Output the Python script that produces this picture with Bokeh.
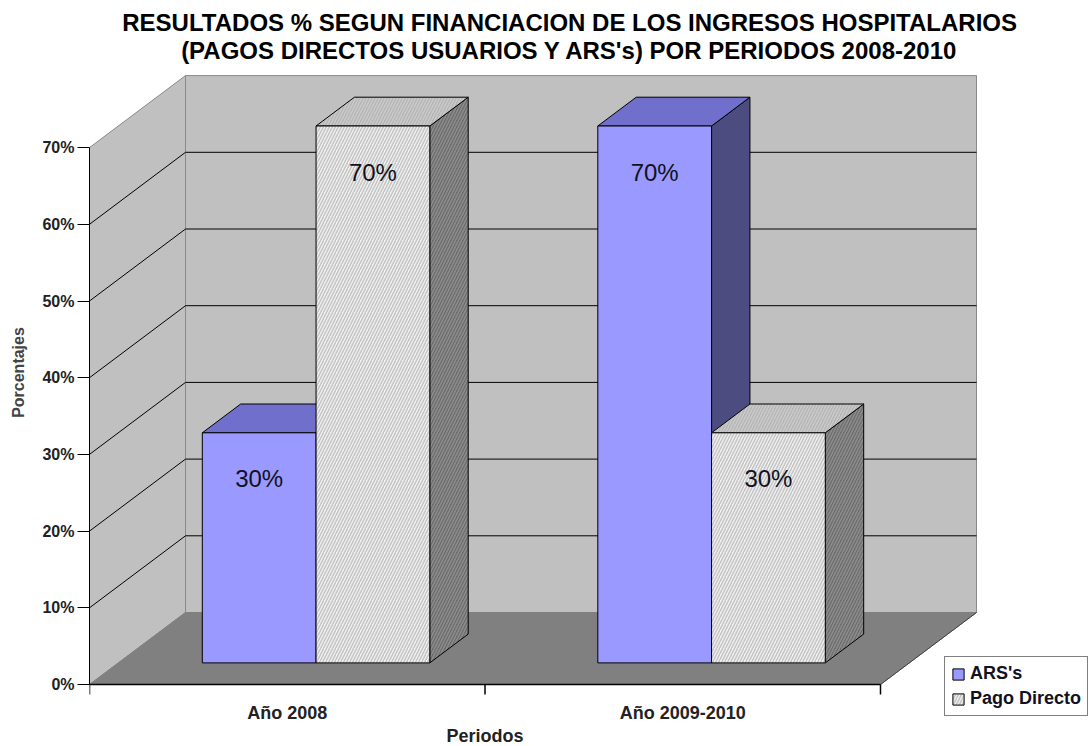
from bokeh.plotting import figure
from bokeh.models import Range1d, FixedTicker, Label, Legend, LegendItem, NumeralTickFormatter
from bokeh.core.properties import value
from bokeh.embed import file_html
from bokeh.resources import INLINE

# ---------------- data ----------------
categories = ["Año 2008", "Año 2009-2010"]
series_names = ["ARS's", "Pago Directo"]
ars_values = [0.30, 0.70]
pago_values = [0.70, 0.30]
y_ticks = [0.0, 0.1, 0.2, 0.3, 0.4, 0.5, 0.6, 0.7]
title_lines = [
    "RESULTADOS % SEGUN FINANCIACION DE LOS INGRESOS HOSPITALARIOS",
    "(PAGOS DIRECTOS USUARIOS Y ARS's) POR PERIODOS 2008-2010",
]
x_title = "Periodos"
y_title = "Porcentajes"

# ---------------- layout / style ----------------
FONT = "Liberation Sans"
W, H = 1090, 744
LEFT = 89
PX_X = 395.5          # pixels per category
PX_Y = 767.0          # pixels per 100 %
ZERO_PX = 684         # pixel row (inside figure) of the 0 % level
x_end = (W - LEFT) / PX_X
y_start = -(H - ZERO_PX) / PX_Y
y_end = ZERO_PX / PX_Y

DX, DY = 96 / PX_X, 72 / PX_Y     # full depth of the 3-D box (data units)
F0, DEP = 0.30, 0.40              # bar front depth and bar depth (fractions)
GAP, BW = 0.2124, 0.2876          # margin inside category, bar width
TICK = 10 / PX_Y
y_max = y_ticks[-1]
n_cat = len(categories)

p = figure(width=W, height=H, x_range=Range1d(0, x_end), y_range=Range1d(y_start, y_end),
           output_backend="svg", toolbar_location=None,
           min_border_left=LEFT, min_border_bottom=0, min_border_top=0, min_border_right=0)
p.outline_line_color = None
p.xgrid.visible = False
p.ygrid.visible = False
p.xaxis.visible = False
p.background_fill_color = "white"

# walls and floor
p.patch([0, DX, DX, 0], [0, DY, y_max + DY, y_max], fill_color="#c0c0c0", line_color="#8a8a8a")
p.patch([DX, n_cat + DX, n_cat + DX, DX], [DY, DY, y_max + DY, y_max + DY],
        fill_color="#c0c0c0", line_color="#8a8a8a")
p.patch([0, n_cat, n_cat + DX, DX], [0, 0, DY, DY], fill_color="#808080", line_color="#808080")
p.segment([n_cat], [0], [n_cat + DX], [DY], line_color="#404040", line_width=1)

# gridlines (left wall diagonals + back wall horizontals)
g = [v for v in y_ticks if 0 < v < y_max]
p.segment([0] * len(g), g, [DX] * len(g), [v + DY for v in g], line_color="black", line_width=1)
p.segment([DX] * len(g), [v + DY for v in g], [n_cat + DX] * len(g), [v + DY for v in g],
          line_color="black", line_width=1)


def faces(s, values):
    fr_x, fr_y, tp_x, tp_y, sd_x, sd_y = [], [], [], [], [], []
    cx, cy = [], []
    for i, v in enumerate(values):
        x0 = i + GAP + s * BW + F0 * DX
        x1 = x0 + BW
        yb = F0 * DY
        yt = v + F0 * DY
        ddx, ddy = DEP * DX, DEP * DY
        fr_x.append([x0, x1, x1, x0]); fr_y.append([yb, yb, yt, yt])
        tp_x.append([x0, x1, x1 + ddx, x0 + ddx]); tp_y.append([yt, yt, yt + ddy, yt + ddy])
        sd_x.append([x1, x1 + ddx, x1 + ddx, x1]); sd_y.append([yb, yb + ddy, yt + ddy, yt])
        cx.append((x0 + x1) / 2); cy.append(yt)
    return fr_x, fr_y, tp_x, tp_y, sd_x, sd_y, cx, cy


# ARS's bars
fx, fy, tx, ty, sx, sy, acx, acy = faces(0, ars_values)
p.patches(sx, sy, fill_color="#4c4c80", line_color="black", line_width=1)
p.patches(tx, ty, fill_color="#7070cc", line_color="black", line_width=1)
r_ars = p.patches(fx, fy, fill_color="#9999ff", line_color="black", line_width=1)

# Pago Directo bars
fx, fy, tx, ty, sx, sy, pcx, pcy = faces(1, pago_values)
p.patches(sx, sy, fill_color="#6c6c6c", line_color="black", line_width=1,
          hatch_pattern="/", hatch_color="#8c8c8c", hatch_scale=6, hatch_weight=1.5)
p.patches(tx, ty, fill_color="#b4b4b4", line_color="black", line_width=1,
          hatch_pattern="/", hatch_color="#cacaca", hatch_scale=6, hatch_weight=1.5)
r_pago = p.patches(fx, fy, fill_color="#f2f2f2", line_color="black", line_width=1,
                   hatch_pattern="/", hatch_color="#c4c4c4", hatch_scale=6, hatch_weight=1.5)

# value labels
lab_x = acx + pcx
lab_y = acy + pcy
lab_t = [f"{v * 100:.0f}%" for v in ars_values + pago_values]
p.text(lab_x, lab_y, text=lab_t, text_align="center", text_baseline="middle", y_offset=46,
       text_font=value(FONT), text_font_size="24px", text_color="#111122")

# titles
for k, line in enumerate(title_lines):
    p.add_layout(Label(x=n_cat * 0.607, y=(ZERO_PX - 22 - k * 28) / PX_Y, text=line,
                       text_align="center", text_baseline="middle", text_font=FONT,
                       text_font_size="24px", text_font_style="bold", text_color="black"))

# y axis (real axis)
ya = p.yaxis[0]
ya.ticker = FixedTicker(ticks=y_ticks)
ya.formatter = NumeralTickFormatter(format="0%")
ya.bounds = (0, y_max)
ya.major_tick_out = 12
ya.major_tick_in = 0
ya.major_label_standoff = 3
ya.major_label_text_font = FONT
ya.major_label_text_font_size = "16px"
ya.major_label_text_font_style = "bold"
ya.major_label_text_color = "#222222"
ya.axis_label = y_title
ya.axis_label_text_font = FONT
ya.axis_label_text_font_size = "16px"
ya.axis_label_text_font_style = "bold"
ya.axis_label_standoff = 12
ya.axis_line_color = "black"

# category axis drawn in the frame (line, boundary ticks, labels, title)
p.segment([0], [0], [n_cat], [0], line_color="black", line_width=1.5)
bounds_x = list(range(n_cat + 1))
p.segment(bounds_x, [0] * len(bounds_x), bounds_x, [-TICK] * len(bounds_x),
          line_color="black", line_width=1.5)
centers = [i + 0.5 for i in range(n_cat)]
p.text(centers, [0] * n_cat, text=categories, text_align="center", text_baseline="middle",
       y_offset=28, text_font=value(FONT), text_font_size="18px", text_font_style="bold",
       text_color="#222222")
p.text([n_cat / 2], [0], text=[x_title], text_align="center", text_baseline="middle",
       y_offset=51, text_font=value(FONT), text_font_size="18px", text_font_style="bold",
       text_color="#222222")

legend = Legend(items=[LegendItem(label=series_names[0], renderers=[r_ars]),
                       LegendItem(label=series_names[1], renderers=[r_pago])],
                location=(855, 28), padding=6, spacing=4, margin=0,
                glyph_width=14, glyph_height=14, label_standoff=5,
                label_text_font=FONT, label_text_font_size="18px", label_text_font_style="bold",
                label_text_color="#111122",
                border_line_color="black", border_line_width=1.5,
                background_fill_color="white", background_fill_alpha=1)
p.add_layout(legend)

open("out.html", "w").write(file_html(p, INLINE))
